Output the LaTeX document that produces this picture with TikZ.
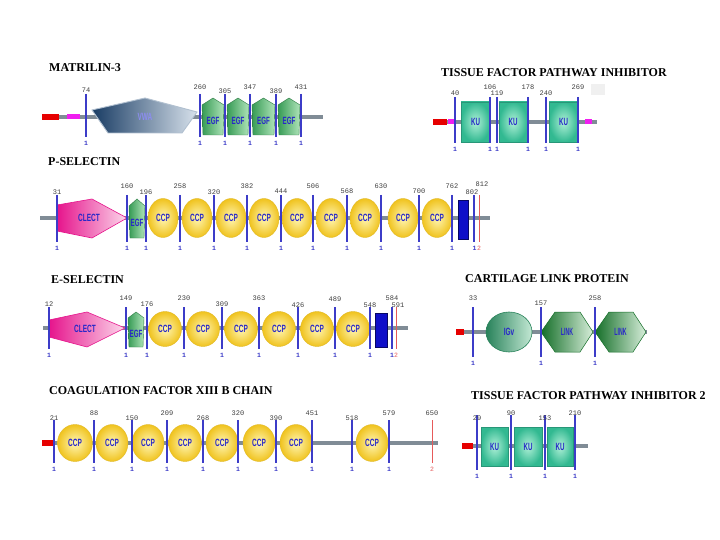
\documentclass[tikz,border=0pt]{standalone}
\usepackage{fontspec}
\setmainfont{Liberation Serif}
\newfontfamily\numfont{Liberation Mono}
\newfontfamily\domfont{Liberation Sans}
\definecolor{bbgray}{RGB}{128,140,150}
\definecolor{mkblue}{RGB}{60,60,200}
\definecolor{mkred}{RGB}{230,90,90}
\definecolor{sigred}{RGB}{230,0,0}
\definecolor{magbar}{RGB}{240,30,240}
\definecolor{domtxt}{RGB}{40,40,200}
\definecolor{vwatxt}{RGB}{140,140,240}
\definecolor{ccpin}{RGB}{255,246,180}
\definecolor{ccpout}{RGB}{240,195,30}
\definecolor{ccpedge}{RGB}{225,185,40}
\definecolor{kulight}{RGB}{175,240,215}
\definecolor{kudark}{RGB}{50,185,145}
\definecolor{kuedge}{RGB}{40,150,120}
\definecolor{egfdark}{RGB}{55,155,85}
\definecolor{egflight}{RGB}{175,228,185}
\definecolor{linkdark}{RGB}{20,110,40}
\definecolor{linklight}{RGB}{215,238,218}
\definecolor{igvdark}{RGB}{40,130,90}
\definecolor{igvlight}{RGB}{195,232,212}
\definecolor{clectdark}{RGB}{230,20,140}
\definecolor{clectlight}{RGB}{252,215,235}
\definecolor{vwadark}{RGB}{25,60,100}
\definecolor{vwalight}{RGB}{215,225,235}
\definecolor{tmblue}{RGB}{15,15,200}
\tikzset{
  title/.style={font=\fontsize{12}{12}\selectfont\bfseries, anchor=west, inner sep=0pt},
  num/.style={font=\numfont\fontsize{7}{7}\selectfont, text=black!75, inner sep=0pt},
  onelab/.style={font=\numfont\bfseries\fontsize{6.5}{6.5}\selectfont, text=mkblue, inner sep=0pt},
  twolab/.style={font=\numfont\fontsize{6.5}{6.5}\selectfont, text=mkred, inner sep=0pt},
  dom/.style={font=\domfont\bfseries\fontsize{10.5}{10.5}\selectfont, text=domtxt, inner sep=0pt, xscale=0.62},
  backbone/.style={line width=4pt, draw=bbgray},
  sigbar/.style={line width=5.5pt, draw=sigred},
  magseg/.style={line width=5pt, draw=magbar},
  marker/.style={draw=mkblue, line width=1.1pt},
  redmarker/.style={draw=mkred, line width=0.9pt},
  ccpshape/.style={inner color=ccpin, outer color=ccpout, draw=ccpedge, line width=0.4pt},
  kushape/.style={inner color=kulight, outer color=kudark, draw=kuedge, line width=0.5pt},
  egfshape/.style={left color=egfdark, right color=egflight, draw=egfdark!80!black, line width=0.4pt},
  linkshape/.style={left color=linkdark, right color=linklight, draw=linkdark, line width=0.5pt},
  clectshape/.style={left color=clectdark, right color=clectlight, draw=clectdark, line width=0.6pt},
  tmshape/.style={fill=tmblue, draw=tmblue!50!black, line width=0.6pt},
}
% marker: x, ytop, ybot, top label, label y
\newcommand\pmk[5]{%
  \draw[marker] (#1,#2) -- (#1,#3);
  \node[num] at (#1,#5) {#4};
  \node[onelab] at (#1,#3+6) {1};}
\newcommand\rmk[5]{%
  \draw[redmarker] (#1,#2) -- (#1,#3);
  \node[num] at (#1,#5) {#4};
  \node[twolab] at (#1,#3+6) {2};}
% CCP: cx, cy, rx, ry
\newcommand\ccpdom[4]{%
  \shade[ccpshape] (#1,#2) ellipse [x radius=#3pt, y radius=#4pt];
  \node[dom] at (#1,#2) {CCP};}
% KU: x1, y1, x2, y2
\newcommand\kudom[4]{%
  \shade[kushape] (#1,#2) rectangle (#3,#4);
  \node[dom, xscale=0.95] at ({(#1+#3)/2},{(#2+#4)/2}) {KU};}
% EGF: x1, x2, apex y, shoulder y, bottom y
\newcommand\egfdom[5]{%
  \shade[egfshape] (#1,#4) -- ({(#1+#2)/2},#3) -- (#2,#4) -- ({#2-1},#5) -- ({#1+1},#5) -- cycle;
  \node[dom, xscale=0.95] at ({(#1+#2)/2},{(#4+#5)/2+1}) {EGF};}
% LINK: x1, x2, cy, half height
\newcommand\linkdom[4]{%
  \shade[linkshape] (#1,#3) -- ({#1+14},{#3-#4}) -- ({#2-13},{#3-#4}) -- (#2,#3) -- ({#2-13},{#3+#4}) -- ({#1+14},{#3+#4}) -- cycle;
  \node[dom, xscale=0.8] at ({(#1+#2)/2},#3) {LINK};}
\begin{document}
\begin{tikzpicture}[x=1pt,y=-1pt]
\useasboundingbox (0,0) rectangle (720,540);
\fill[white] (0,0) rectangle (720,540);

% ================= MATRILIN-3
\node[title] (t1) at (49,68) {MATRILIN-3};
\draw[backbone] (59,117) -- (323,117);
\draw[sigbar] (42,117) -- (59,117);
\draw[magseg] (67,117) -- (80,117);
\shade[left color=vwadark, right color=vwalight, draw=vwalight!80!vwadark, line width=0.9pt]
  (92,110) -- (145,98) -- (197,112) -- (182,133) -- (108,133) -- cycle;
\node[dom, text=vwatxt] at (145,117) {VWA};
\egfdom{202}{224}{98}{105}{135}
\egfdom{227}{249}{98}{105}{135}
\egfdom{252}{275}{98}{105}{135}
\egfdom{278}{300}{98}{105}{135}
\pmk{86}{94}{137}{74}{90}
\pmk{200}{94}{137}{260}{87}
\pmk{225}{94}{137}{305}{91}
\pmk{250}{94}{137}{347}{87}
\pmk{276}{94}{137}{389}{91}
\pmk{301}{94}{137}{431}{87}

% ================= TFPI
\node[title] (t2) at (441,73) {TISSUE FACTOR PATHWAY INHIBITOR};
\fill[black!6] (591,84) rectangle (605,95);
\draw[backbone] (447,122) -- (597,122);
\draw[sigbar] (433,122) -- (447,122);
\draw[magseg] (448,122) -- (455,122);
\draw[magseg] (585,122) -- (592,122);
\kudom{461}{102}{490}{142}
\kudom{499}{102}{527}{142}
\kudom{549}{102}{578}{142}
\pmk{455}{97}{143}{40}{93}
\pmk{490}{97}{143}{106}{87}
\pmk{497}{97}{143}{119}{93}
\pmk{528}{97}{143}{178}{87}
\pmk{546}{97}{143}{240}{93}
\pmk{578}{97}{143}{269}{87}

% ================= P-SELECTIN
\node[title] (t3) at (48,162) {P-SELECTIN};
\draw[backbone] (40,218) -- (490,218);
\shade[clectshape] (57,205) -- (92,199) -- (127,218) -- (92,238) -- (57,231) -- cycle;
\node[dom] at (89,218) {CLECT};
\egfdom{129}{145}{199}{206}{238}
\ccpdom{163}{218}{15}{19.5}
\ccpdom{197}{218}{15}{19.5}
\ccpdom{231}{218}{15}{19.5}
\ccpdom{264}{218}{15}{19.5}
\ccpdom{297}{218}{15}{19.5}
\ccpdom{331}{218}{15}{19.5}
\ccpdom{365}{218}{15}{19.5}
\ccpdom{403}{218}{15}{19.5}
\ccpdom{437}{218}{15}{19.5}
\draw[tmshape] (458,200) rectangle (468,239);
\pmk{57}{195}{242}{31}{192}
\pmk{127}{195}{242}{160}{186}
\pmk{146}{195}{242}{196}{192}
\pmk{180}{195}{242}{258}{186}
\pmk{214}{195}{242}{320}{192}
\pmk{247}{195}{242}{382}{186}
\pmk{281}{195}{242}{444}{191}
\pmk{313}{195}{242}{506}{186}
\pmk{347}{195}{242}{568}{191}
\pmk{381}{195}{242}{630}{186}
\pmk{419}{195}{242}{700}{191}
\pmk{452}{195}{242}{762}{186}
\draw[marker] (474,195) -- (474,242);
\node[num] at (472,192) {802};
\node[onelab] at (474.5,248) {1};
\draw[redmarker] (479,195) -- (479,242);
\node[num] at (482,184.5) {812};
\node[twolab] at (479,248) {2};

% ================= E-SELECTIN
\node[title] (t4) at (51,280) {E-SELECTIN};
\draw[backbone] (43,328) -- (408,328);
\shade[clectshape] (49,320) -- (87,312) -- (125,328) -- (87,347) -- (49,337) -- cycle;
\node[dom] at (85,329) {CLECT};
\egfdom{128}{144}{312}{318}{347}
\ccpdom{165}{329}{16.5}{17.5}
\ccpdom{203}{329}{16.5}{17.5}
\ccpdom{241}{329}{16.5}{17.5}
\ccpdom{279}{329}{16.5}{17.5}
\ccpdom{317}{329}{16.5}{17.5}
\ccpdom{353}{329}{16.5}{17.5}
\draw[tmshape] (375,313) rectangle (387,347);
\pmk{49}{307}{349}{12}{304}
\pmk{126}{307}{349}{149}{298}
\pmk{147}{307}{349}{176}{304}
\pmk{184}{307}{349}{230}{298}
\pmk{222}{307}{349}{309}{304}
\pmk{259}{307}{349}{363}{298}
\pmk{298}{307}{349}{426}{305}
\pmk{335}{307}{349}{489}{299}
\pmk{370}{307}{349}{548}{305}
\draw[marker] (392,307) -- (392,349);
\node[num] at (392,298) {584};
\node[onelab] at (392,355) {1};
\draw[redmarker] (396,307) -- (396,349);
\node[num] at (398,305) {591};
\node[twolab] at (396,355) {2};

% ================= CARTILAGE LINK PROTEIN
\node[title] (t5) at (465,279) {CARTILAGE LINK PROTEIN};
\draw[backbone] (464,332) -- (647,332);
\draw[sigbar] (456,332) -- (464,332);
\shade[left color=igvdark, right color=igvlight, draw=igvdark, line width=0.6pt]
  (509,332) ellipse [x radius=23pt, y radius=20pt];
\node[dom] at (509,332) {IGv};
\linkdom{541}{593}{332}{20}
\linkdom{595}{646}{332}{20}
\pmk{473}{307}{357}{33}{298}
\pmk{541}{307}{357}{157}{303}
\pmk{595}{307}{357}{258}{298}

% ================= COAGULATION FACTOR XIII B CHAIN
\node[title] (t6) at (49,391) {COAGULATION FACTOR XIII B CHAIN};
\draw[backbone] (55,443) -- (438,443);
\draw[sigbar] (42,443) -- (55,443);
\ccpdom{75}{443}{17.5}{18.5}
\ccpdom{112}{443}{16}{18.5}
\ccpdom{148}{443}{16}{18.5}
\ccpdom{185}{443}{16.5}{18.5}
\ccpdom{222}{443}{16}{18.5}
\ccpdom{259}{443}{16}{18.5}
\ccpdom{296}{443}{16}{18.5}
\ccpdom{372}{443}{16}{18.5}
\pmk{54}{420}{463}{21}{418}
\pmk{94}{420}{463}{88}{413}
\pmk{132}{420}{463}{150}{418}
\pmk{167}{420}{463}{209}{413}
\pmk{203}{420}{463}{268}{418}
\pmk{238}{420}{463}{320}{413}
\pmk{276}{420}{463}{390}{418}
\pmk{312}{420}{463}{451}{413}
\pmk{352}{420}{463}{518}{418}
\pmk{389}{420}{463}{579}{413}
\rmk{432}{420}{463}{650}{413}

% ================= TFPI 2
\node[title] (t7) at (471,396) {TISSUE FACTOR PATHWAY INHIBITOR 2};
\draw[backbone] (473,446) -- (588,446);
\draw[sigbar] (462,446) -- (473,446);
\kudom{481}{427}{508}{466}
\kudom{514}{427}{542}{466}
\kudom{547}{427}{573}{466}
\pmk{477}{415}{470}{29}{418}
\pmk{511}{415}{470}{90}{413}
\pmk{545}{415}{470}{153}{418}
\pmk{575}{415}{470}{210}{413}
\end{tikzpicture}
\end{document}
